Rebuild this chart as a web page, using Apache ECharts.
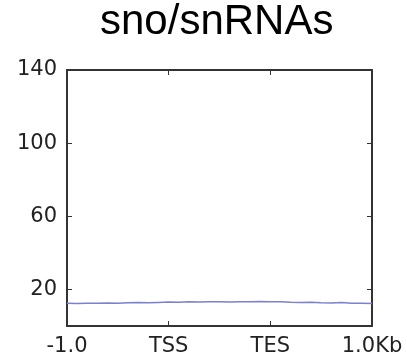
<!DOCTYPE html>
<html><head><meta charset="utf-8">
<script src="https://cdn.jsdelivr.net/npm/echarts@6/dist/echarts.min.js"></script>
<style>html,body{margin:0;padding:0;background:#fff}#c{width:407px;height:364px}</style>
</head><body><div id="c"></div>
<script>
const title = "sno/snRNAs";
const xTickPositions = [0, 100, 200, 300];
const xTickLabels = ["-1.0", "TSS", "TES", "1.0Kb"];
const yTickValues = [20, 60, 100, 140];
const xPositions = [0,10,20,30,40,50,60,70,80,90,100,110,120,130,140,150,160,170,180,190,200,210,220,230,240,250,260,270,280,290,300];
const signal = [12.4,12.3,12.5,12.4,12.6,12.5,12.7,12.8,12.7,12.9,13.1,13.0,13.2,13.1,13.3,13.2,13.1,13.3,13.2,13.4,13.3,13.2,13.0,12.9,13.0,12.7,12.6,12.8,12.5,12.4,12.3];

const axisColor = '#333';
const lblFont = {color:'#222', fontFamily:'DejaVu Sans', fontSize:21};
const chart = echarts.init(document.getElementById('c'), null, {renderer:'canvas'});
chart.setOption({
  animation:false,
  title:{text:title, left:95, top:-4, textStyle:{fontFamily:'Liberation Sans, Arial', fontSize:42, fontWeight:'normal', color:'#000'}},
  grid:{left:67, right:35, top:70, bottom:38},
  xAxis:[
    {type:'value', min:0, max:300, position:'bottom',
     axisLine:{show:true, onZero:false, lineStyle:{color:axisColor, width:2}},
     axisTick:{show:true, inside:true, length:5, customValues:xTickPositions, lineStyle:{color:axisColor}},
     axisLabel:{show:true, customValues:xTickPositions, margin:10, formatter:v=>xTickLabels[xTickPositions.indexOf(v)] ?? '', ...lblFont},
     splitLine:{show:false}},
    {type:'value', min:0, max:300, position:'top',
     axisLine:{show:true, onZero:false, lineStyle:{color:axisColor, width:2}},
     axisTick:{show:true, inside:true, length:5, customValues:xTickPositions, lineStyle:{color:axisColor}},
     axisLabel:{show:false}, splitLine:{show:false}}
  ],
  yAxis:[
    {type:'value', min:0, max:140, position:'left',
     axisLine:{show:true, onZero:false, lineStyle:{color:axisColor, width:2}},
     axisTick:{show:true, inside:true, length:5, customValues:yTickValues, lineStyle:{color:axisColor}},
     axisLabel:{show:true, customValues:yTickValues, margin:10, ...lblFont},
     splitLine:{show:false}},
    {type:'value', min:0, max:140, position:'right',
     axisLine:{show:true, onZero:false, lineStyle:{color:axisColor, width:2}},
     axisTick:{show:true, inside:true, length:5, customValues:yTickValues, lineStyle:{color:axisColor}},
     axisLabel:{show:false}, splitLine:{show:false}}
  ],
  series:[{type:'line', xAxisIndex:0, yAxisIndex:0, showSymbol:false,
    data:xPositions.map((x,i)=>[x, signal[i]]),
    lineStyle:{color:'#7b80cf', width:1.5}}]
});
</script></body></html>
